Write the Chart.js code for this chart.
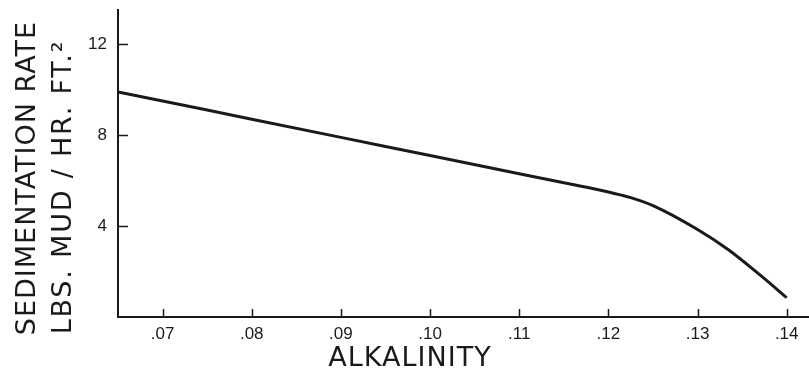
<!DOCTYPE html>
<html>
<head>
<meta charset="utf-8">
<script src="https://cdn.jsdelivr.net/npm/chart.js@4"></script>
<style>
  html, body { margin: 0; padding: 0; background: #fff; }
  #wrap { width: 809px; height: 374px; }
</style>
</head>
<body>
<div id="wrap"><canvas id="sedChart"></canvas></div>
<script>
// Alkalinity (x) vs sedimentation rate (y)
const alkalinity = [0.065, 0.07, 0.08, 0.09, 0.10, 0.11, 0.115, 0.12, 0.1225, 0.125, 0.13, 0.1335, 0.137, 0.14];
const sedRate = [9.9, 9.5, 8.7, 7.9, 7.1, 6.3, 5.9, 5.5, 5.25, 4.9, 3.85, 2.95, 1.85, 0.85];

const xTicks = [0.07, 0.08, 0.09, 0.10, 0.11, 0.12, 0.13, 0.14];
const xTickLabels = [".07", ".08", ".09", ".10", ".11", ".12", ".13", ".14"];
const yTicks = [4, 8, 12];
const yTickLabels = ["4", "8", "12"];

const xTitle = "ALKALINITY";
const yTitle = ["SEDIMENTATION RATE", "LBS. MUD / HR. FT.\u00B2"];

document.addEventListener("DOMContentLoaded", function () {
  const ink = "#1a1a1a";
  const titleFont = "27px 'DejaVu Sans', sans-serif";

  // tick marks pointing into the plot plus the hand-lettered axis titles
  const decorations = {
    id: "decorations",
    afterDraw(chart) {
      const ctx = chart.ctx;
      const xs = chart.scales.x;
      const ys = chart.scales.y;
      const base = ys.getPixelForValue(0);
      const left = xs.getPixelForValue(xs.min);
      ctx.save();
      ctx.strokeStyle = ink;
      ctx.lineWidth = 1.5;
      xTicks.forEach((v) => {
        const px = Math.round(xs.getPixelForValue(v)) + 0.5;
        ctx.beginPath();
        ctx.moveTo(px, base);
        ctx.lineTo(px, base - 8);
        ctx.stroke();
      });
      yTicks.forEach((v) => {
        const py = Math.round(ys.getPixelForValue(v)) + 0.5;
        ctx.beginPath();
        ctx.moveTo(left, py);
        ctx.lineTo(left + 10, py);
        ctx.stroke();
      });

      ctx.fillStyle = ink;
      ctx.font = titleFont;
      ctx.textAlign = "center";
      ctx.textBaseline = "middle";
      if ("letterSpacing" in ctx) ctx.letterSpacing = "1px";
      ctx.fillText(xTitle, 410, 359);

      ctx.translate(0, 178);
      ctx.rotate(-Math.PI / 2);
      ctx.fillText(yTitle[0], 0, 28);
      if ("letterSpacing" in ctx) ctx.letterSpacing = "1.8px";
      ctx.fillText(yTitle[1], -9, 64);
      ctx.restore();
    },
  };

  const ctx = document.getElementById("sedChart").getContext("2d");
  new Chart(ctx, {
    type: "line",
    data: {
      datasets: [
        {
          data: alkalinity.map((x, i) => ({ x: x, y: sedRate[i] })),
          borderColor: ink,
          borderWidth: 3,
          pointRadius: 0,
          cubicInterpolationMode: "monotone",
          fill: false,
        },
      ],
    },
    options: {
      responsive: true,
      maintainAspectRatio: false,
      animation: false,
      layout: { padding: { top: 10, right: 0, left: 0, bottom: 0 } },
      plugins: {
        legend: { display: false },
        tooltip: { enabled: false },
      },
      scales: {
        x: {
          type: "linear",
          min: 0.065,
          max: 0.1425,
          grid: { display: false, drawTicks: false },
          border: { display: true, color: ink, width: 2 },
          afterBuildTicks: (scale) => {
            scale.ticks = xTicks.map((v) => ({ value: v }));
          },
          afterFit: (scale) => {
            scale.height = 57;
            scale.paddingLeft = 0;
            scale.paddingRight = 0;
          },
          ticks: {
            color: ink,
            padding: 7,
            maxRotation: 0,
            autoSkip: false,
            font: { family: "'Liberation Sans', Arial, sans-serif", size: 17 },
            callback: (v) => xTickLabels[xTicks.findIndex((t) => Math.abs(t - v) < 1e-6)],
          },
        },
        y: {
          type: "linear",
          min: 0,
          max: 13.5,
          grid: { display: false, drawTicks: false },
          border: { display: true, color: ink, width: 2 },
          afterBuildTicks: (scale) => {
            scale.ticks = yTicks.map((v) => ({ value: v }));
          },
          afterFit: (scale) => {
            scale.width = 118;
            scale.paddingTop = 0;
            scale.paddingBottom = 0;
          },
          ticks: {
            color: ink,
            padding: 11,
            font: { family: "'Liberation Sans', Arial, sans-serif", size: 17 },
            callback: (v) => yTickLabels[yTicks.indexOf(v)],
          },
        },
      },
    },
    plugins: [decorations],
  });
});
</script>
</body>
</html>
